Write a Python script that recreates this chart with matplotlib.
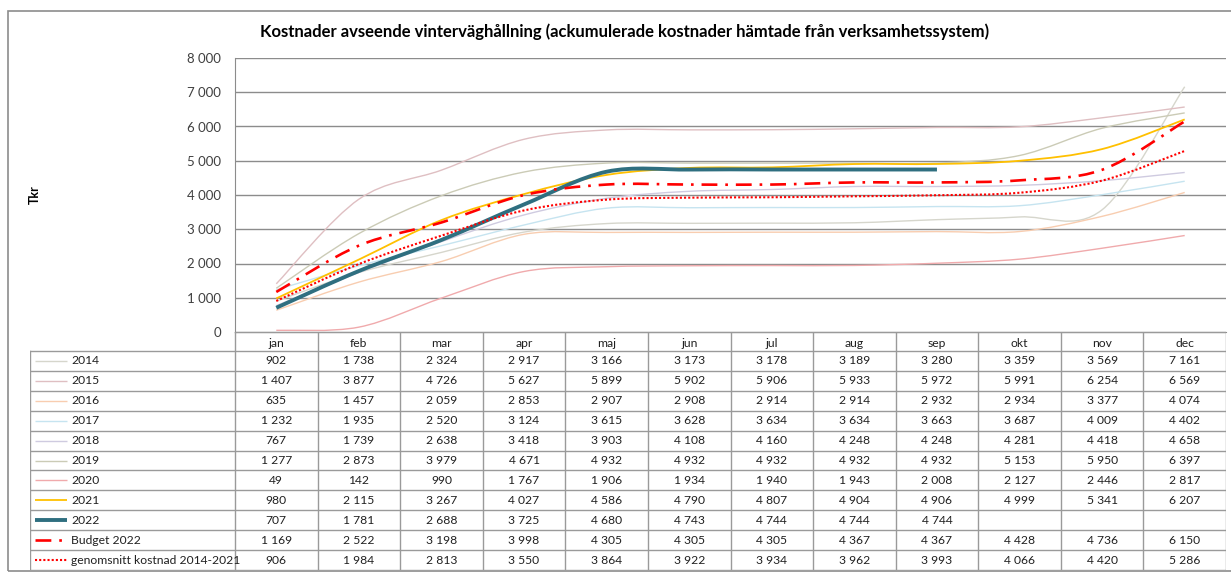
import matplotlib
matplotlib.use("Agg")
import matplotlib.pyplot as plt
from matplotlib.path import Path
from matplotlib.patches import PathPatch, Rectangle
import numpy as np

plt.rcParams['font.family'] = ['Lato', 'DejaVu Sans']

# data
months = ["jan", "feb", "mar", "apr", "maj", "jun", "jul", "aug", "sep", "okt", "nov", "dec"]
s2014 = [902, 1738, 2324, 2917, 3166, 3173, 3178, 3189, 3280, 3359, 3569, 7161]
s2015 = [1407, 3877, 4726, 5627, 5899, 5902, 5906, 5933, 5972, 5991, 6254, 6569]
s2016 = [635, 1457, 2059, 2853, 2907, 2908, 2914, 2914, 2932, 2934, 3377, 4074]
s2017 = [1232, 1935, 2520, 3124, 3615, 3628, 3634, 3634, 3663, 3687, 4009, 4402]
s2018 = [767, 1739, 2638, 3418, 3903, 4108, 4160, 4248, 4248, 4281, 4418, 4658]
s2019 = [1277, 2873, 3979, 4671, 4932, 4932, 4932, 4932, 4932, 5153, 5950, 6397]
s2020 = [49, 142, 990, 1767, 1906, 1934, 1940, 1943, 2008, 2127, 2446, 2817]
s2021 = [980, 2115, 3267, 4027, 4586, 4790, 4807, 4904, 4906, 4999, 5341, 6207]
s2022 = [707, 1781, 2688, 3725, 4680, 4743, 4744, 4744, 4744]
budget2022 = [1169, 2522, 3198, 3998, 4305, 4305, 4305, 4367, 4367, 4428, 4736, 6150]
snitt = [906, 1984, 2813, 3550, 3864, 3922, 3934, 3962, 3993, 4066, 4420, 5286]

names = ["2014", "2015", "2016", "2017", "2018", "2019", "2020", "2021", "2022",
         "Budget 2022", "genomsnitt kostnad 2014-2021"]
series = [s2014, s2015, s2016, s2017, s2018, s2019, s2020, s2021, s2022, budget2022, snitt]
colors = ["#d6d6cc", "#dfbfc2", "#f8cdb0", "#c6e4f0", "#cfcbe0", "#cbcbb6", "#f0aaac",
          "#ffc000", "#2f6f80", "#ff0000", "#ff0000"]
widths = [1.0, 1.0, 1.0, 1.0, 1.0, 1.0, 1.0, 1.3, 2.8, 1.9, 1.5]
styles = ["-"] * 9 + [(0, (6, 3, 1, 3)), (0, (1, 1))]

W, H = 1231, 572
fig = plt.figure(figsize=(W / 100, H / 100), dpi=100)

# outer border
fig.patches.append(Rectangle((8 / W, 0.002), 1.0, (H - 11 - 1) / H, transform=fig.transFigure,
                             fill=False, edgecolor="#8c8c8c", lw=1.2))

L, R, T, B = 235, 1226, 58, 332
ax = fig.add_axes([L / W, (H - B) / H, (R - L) / W, (B - T) / H])


def smooth_path(xs, ys):
    # excel-like smoothed line: catmull-rom converted to cubic bezier segments
    pts = np.column_stack([xs, ys]).astype(float)
    verts = [pts[0]]
    codes = [Path.MOVETO]
    n = len(pts)
    for i in range(n - 1):
        p0 = pts[i - 1] if i > 0 else pts[i]
        p1 = pts[i]
        p2 = pts[i + 1]
        p3 = pts[i + 2] if i + 2 < n else pts[i + 1]
        c1 = p1 + (p2 - p0) / 6.0
        c2 = p2 - (p3 - p1) / 6.0
        verts += [c1, c2, p2]
        codes += [Path.CURVE4] * 3
    return Path(verts, codes)


for vals, c, lw, ls in zip(series, colors, widths, styles):
    x = np.arange(len(vals))
    ax.add_patch(PathPatch(smooth_path(x, vals), fill=False, edgecolor=c, lw=lw,
                           linestyle=ls, capstyle="butt"))

ax.set_xlim(-0.5, 11.5)
ax.set_ylim(0, 8000)
ax.set_yticks(range(0, 8001, 1000))
ax.set_yticklabels([f"{v:,}".replace(",", " ") for v in range(0, 8001, 1000)])
ax.tick_params(axis="y", length=0, pad=10, labelsize=9.5, labelcolor="#404040")
ax.set_xticks([])
ax.grid(axis="y", color="#8c8c8c", lw=1.0)
ax.set_axisbelow(True)
for sp in ["top", "right"]:
    ax.spines[sp].set_visible(False)
ax.spines["left"].set_color("#8c8c8c")
ax.spines["bottom"].set_color("#8c8c8c")

fig.text(625 / W, 1 - 32 / H, "Kostnader avseende vinterväghållning (ackumulerade kostnader hämtade från verksamhetssystem)",
         ha="center", va="center", fontsize=12, fontweight="bold")
fig.text(35 / W, 1 - 195 / H, "Tkr", rotation=90, ha="center", va="center",
         fontsize=9, fontweight="bold")

# data table below the plot
lab_w = (L - 30) / ((R - L) / 12)
hdr = 0.955
tax = fig.add_axes([30 / W, (H - 570) / H, (R - 30) / W, (570 - B) / H])
tax.set_xlim(-0.5 - lab_w, 11.5)
tax.set_ylim(len(names), -hdr)
tax.axis("off")
gc = "#9a9a9a"
fs = 8.7
# vertical lines
for i in range(13):
    tax.plot([i - 0.5, i - 0.5], [-hdr, len(names)], color=gc, lw=1.0)
tax.plot([-0.5 - lab_w] * 2, [0, len(names)], color=gc, lw=1.0)
tax.plot([-0.5, 11.5], [-hdr, -hdr], color=gc, lw=1.0)
for r in range(len(names) + 1):
    tax.plot([-0.5 - lab_w, 11.5], [r, r], color=gc, lw=1.0)

for i, m in enumerate(months):
    tax.text(i, -hdr / 2 + 0.08, m, ha="center", va="center", fontsize=fs, color="#202020")

key_x0 = -0.5 - lab_w + 5 / 82.6
key_x1 = key_x0 + 32 / 82.6
for r, (nm, vals, c, lw, ls) in enumerate(zip(names, series, colors, widths, styles)):
    tax.plot([key_x0, key_x1], [r + 0.5, r + 0.5], color=c, lw=lw, linestyle=ls,
             solid_capstyle="butt", dash_capstyle="butt")
    tax.text(key_x1 + 4 / 82.6, r + 0.5, nm, ha="left", va="center", fontsize=fs, color="#202020")
    for i, v in enumerate(vals):
        tax.text(i, r + 0.5, f"{v:,}".replace(",", " "), ha="center", va="center",
                 fontsize=fs, color="#202020")

fig.savefig("out.png", dpi=100)
